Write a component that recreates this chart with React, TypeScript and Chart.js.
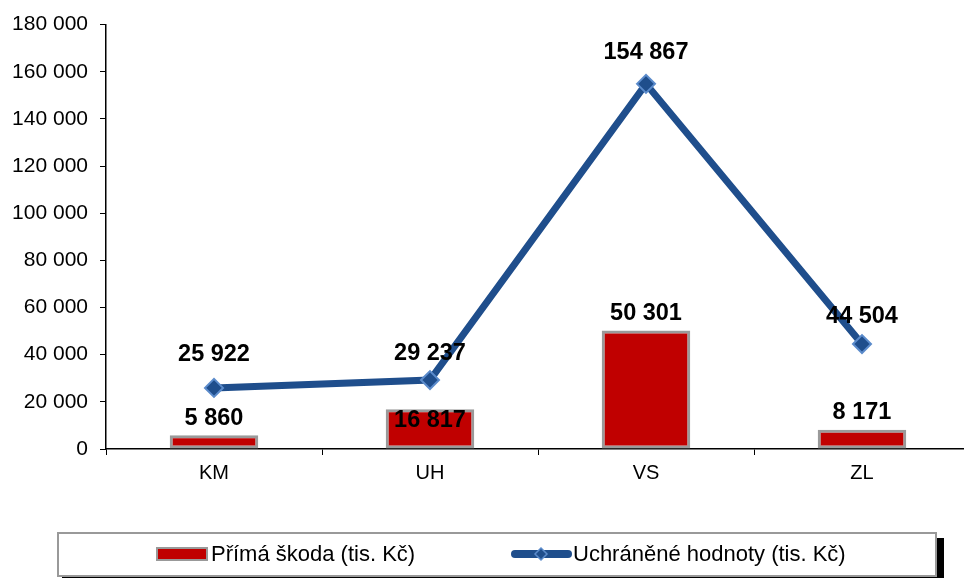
import React, { useEffect, useRef } from "react";
import { Chart, registerables } from "chart.js";

Chart.register(...registerables);

const categories = ["KM", "UH", "VS", "ZL"];
const primaSkoda = [5860, 16817, 50301, 8171];
const uchraneneHodnoty = [25922, 29237, 154867, 44504];
const yTicks = [0, 20000, 40000, 60000, 80000, 100000, 120000, 140000, 160000, 180000];
const seriesNames = ["Přímá škoda (tis. Kč)", "Uchráněné hodnoty (tis. Kč)"];

// label vertical offsets (style only)
const barLabelShift = [-17, 11, -17, -17];
const lineLabelShift = [-33, -27, -31, -28];

const FONT = '"Liberation Sans", Arial, sans-serif';
const RED = "#C00000";
const BLUE = "#1F4E8C";
const BLUE_LIGHT = "#5B8BCB";

const fmt = (v: number) => String(v).replace(/\B(?=(\d{3})+(?!\d))/g, " ");

const labelsPlugin = {
  id: "valueLabels",
  afterDatasetsDraw(chart: any) {
    const ctx = chart.ctx;
    ctx.save();
    ctx.font = `bold 23.5px ${FONT}`;
    ctx.fillStyle = "#000";
    ctx.textAlign = "center";
    ctx.textBaseline = "middle";
    const barMeta = chart.getDatasetMeta(0);
    barMeta.data.forEach((el: any, i: number) => {
      ctx.fillText(fmt(primaSkoda[i]), el.x, el.y + barLabelShift[i]);
    });
    const lineMeta = chart.getDatasetMeta(1);
    lineMeta.data.forEach((el: any, i: number) => {
      ctx.fillText(fmt(uchraneneHodnoty[i]), el.x, el.y + lineLabelShift[i]);
    });
    ctx.restore();
  },
};

const legendPlugin = {
  id: "boxLegend",
  afterDraw(chart: any) {
    const ctx = chart.ctx;
    ctx.save();
    // shadow
    ctx.fillStyle = "#000";
    ctx.fillRect(937, 538, 7, 40);
    ctx.fillRect(62, 576, 882, 2);
    // box
    ctx.fillStyle = "#fff";
    ctx.fillRect(57, 532, 880, 44);
    ctx.strokeStyle = "#999";
    ctx.lineWidth = 2;
    ctx.strokeRect(58, 533, 878, 43);
    // bar swatch
    ctx.fillStyle = RED;
    ctx.fillRect(157, 548, 50, 12);
    ctx.strokeStyle = "#999";
    ctx.lineWidth = 2;
    ctx.strokeRect(157, 548, 50, 12);
    ctx.font = `22px ${FONT}`;
    ctx.fillStyle = "#000";
    ctx.textAlign = "left";
    ctx.textBaseline = "middle";
    ctx.fillText(seriesNames[0], 211, 555);
    // line swatch
    ctx.strokeStyle = BLUE;
    ctx.lineWidth = 8;
    ctx.lineCap = "round";
    ctx.beginPath();
    ctx.moveTo(515, 554);
    ctx.lineTo(568, 554);
    ctx.stroke();
    ctx.beginPath();
    ctx.moveTo(541, 548);
    ctx.lineTo(547, 554);
    ctx.lineTo(541, 560);
    ctx.lineTo(535, 554);
    ctx.closePath();
    ctx.fillStyle = BLUE;
    ctx.fill();
    ctx.strokeStyle = BLUE_LIGHT;
    ctx.lineWidth = 1.5;
    ctx.stroke();
    ctx.fillStyle = "#000";
    ctx.fillText(seriesNames[1], 573, 555);
    ctx.restore();
  },
};

export default function App() {
  const ref = useRef<HTMLCanvasElement>(null);
  useEffect(() => {
    if (!ref.current) return;
    const chart = new Chart(ref.current, {
      type: "bar",
      data: {
        labels: categories,
        datasets: [
          {
            type: "bar",
            label: seriesNames[0],
            data: primaSkoda,
            backgroundColor: RED,
            borderColor: "#9a9a9a",
            borderWidth: 3,
            borderSkipped: false,
            barPercentage: 0.41,
            categoryPercentage: 1,
            order: 2,
          },
          {
            type: "line",
            label: seriesNames[1],
            data: uchraneneHodnoty,
            borderColor: BLUE,
            borderWidth: 7,
            backgroundColor: BLUE,
            pointStyle: "rectRot",
            pointRadius: 9,
            pointBorderWidth: 2,
            pointBorderColor: BLUE_LIGHT,
            pointBackgroundColor: BLUE,
            tension: 0,
            order: 1,
          },
        ] as any,
      },
      options: {
        responsive: false,
        animation: false,
        layout: { padding: { top: 20, right: 0, left: 0, bottom: 0 } },
        plugins: { legend: { display: false }, tooltip: { enabled: false } },
        scales: {
          x: {
            offset: true,
            grid: { display: true, drawOnChartArea: false, offset: true, tickLength: 6, color: "#000", lineWidth: 1 },
            border: { color: "#000", width: 1.5 },
            ticks: { color: "#000", font: { family: FONT, size: 20 }, padding: 6 },
            afterFit(scale: any) {
              scale.height = 129;
            },
          },
          y: {
            min: 0,
            max: 180000,
            afterBuildTicks(scale: any) {
              scale.ticks = yTicks.map((v) => ({ value: v }));
            },
            grid: { display: true, drawOnChartArea: false, tickLength: 6, color: "#000", lineWidth: 1 },
            border: { color: "#000", width: 1.5 },
            ticks: {
              color: "#000",
              font: { family: FONT, size: 21 },
              padding: 12,
              callback: (v: any) => fmt(Number(v)),
            },
            afterFit(scale: any) {
              scale.width = 106;
            },
          },
        },
      },
      plugins: [labelsPlugin, legendPlugin],
    });
    return () => chart.destroy();
  }, []);
  return (
    <div style={{ position: "absolute", left: 0, top: 0, width: 964, height: 578, overflow: "hidden", background: "#fff" }}>
      <canvas ref={ref} width={981} height={578} style={{ display: "block" }} />
    </div>
  );
}
